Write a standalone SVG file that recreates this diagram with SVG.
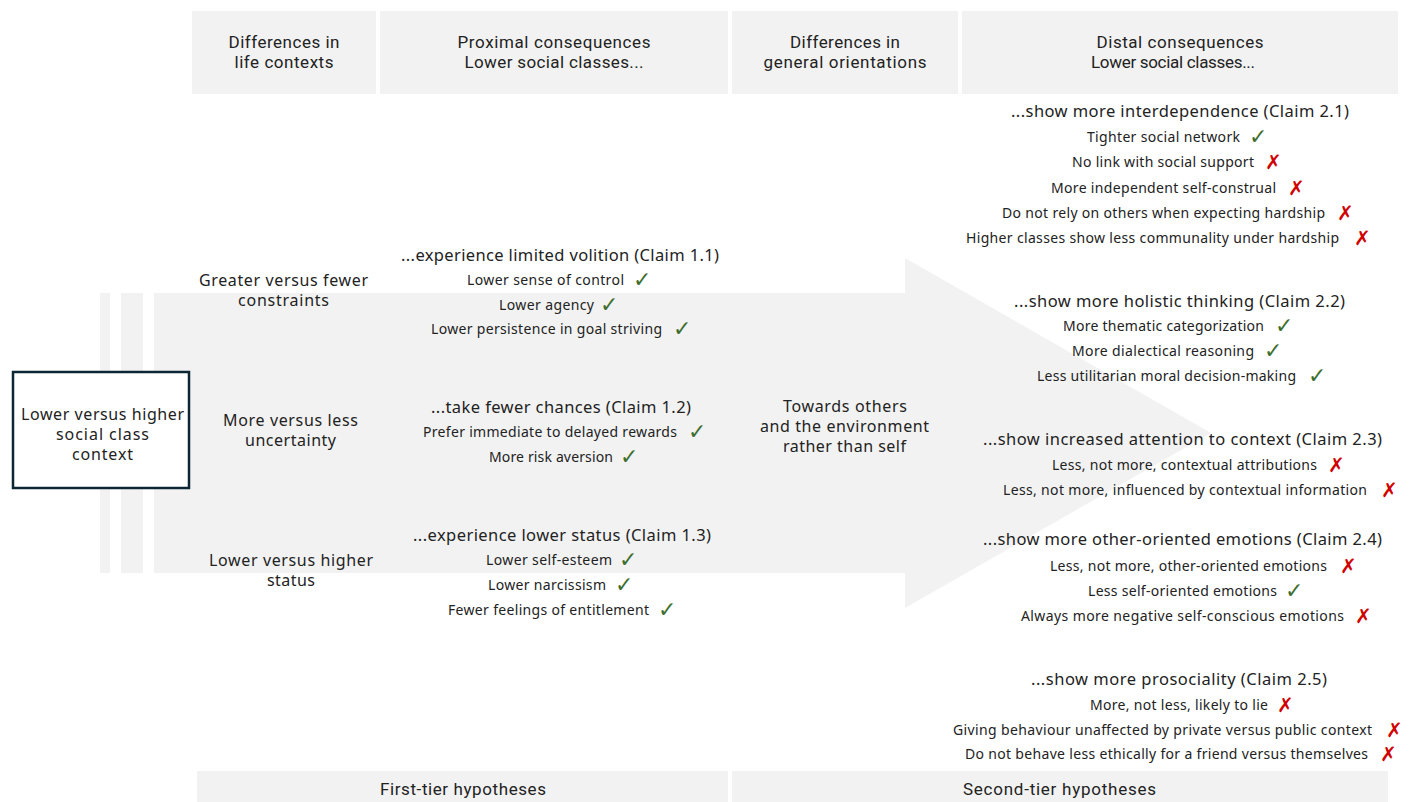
<svg xmlns="http://www.w3.org/2000/svg" width="1416" height="802" viewBox="0 0 1416 802">
<style>
.bg{fill:#f2f2f2}
.h{font-family:Roboto,"Liberation Sans",sans-serif;font-size:17px;fill:#222;text-anchor:middle}
.t{font-family:"Noto Sans","Liberation Sans",sans-serif;font-size:16.5px;fill:#222}
.l{font-family:"Noto Sans","Liberation Sans",sans-serif;font-size:16px;fill:#222;text-anchor:middle}
.i{font-family:"Noto Sans","Liberation Sans",sans-serif;font-size:14px;fill:#222}
.ok{font-family:"DejaVu Sans",sans-serif;font-size:22px;font-weight:bold;fill:#3d6e2e}
.no{font-family:"DejaVu Sans",sans-serif;font-size:20px;fill:#d00000}
</style>
<rect width="1416" height="802" fill="#fff"/>
<g id="headers">
<rect class="bg" x="192" y="11" width="184" height="83"/>
<rect class="bg" x="380" y="11" width="348" height="83"/>
<rect class="bg" x="732" y="11" width="226" height="83"/>
<rect class="bg" x="962" y="11" width="436" height="83"/>
<text class="h" x="284" y="48" textLength="111">Differences in</text>
<text class="h" x="284" y="68" textLength="99">life contexts</text>
<text class="h" x="554" y="48" textLength="193">Proximal consequences</text>
<text class="h" x="554" y="68" textLength="179">Lower social classes...</text>
<text class="h" x="845" y="48" textLength="110">Differences in</text>
<text class="h" x="845" y="68" textLength="163">general orientations</text>
<text class="h" x="1180" y="48" textLength="167">Distal consequences</text>
<text class="h" x="1173" y="68" textLength="164">Lower social classes...</text>
</g>
<g id="arrow">
<rect class="bg" x="100" y="293" width="10" height="280"/>
<rect class="bg" x="121" y="293" width="22" height="280"/>
<path class="bg" d="M154,293 H905 V258 L1211,433 L905,608 V573 H154 Z"/>
</g>
<g id="connectors"></g>
<g id="context">
<rect x="13" y="372" width="176" height="116" fill="#fff" stroke="#0d2633" stroke-width="2.5"/>
<text class="l" x="102.5" y="420" textLength="163">Lower versus higher</text>
<text class="l" x="102.5" y="440" textLength="93">social class</text>
<text class="l" x="102.5" y="460" textLength="61">context</text>
</g>
<g id="life-contexts">
<text class="l" x="283.5" y="286" textLength="169">Greater versus fewer</text>
<text class="l" x="283.5" y="306" textLength="91">constraints</text>
<text class="l" x="290.5" y="426" textLength="135">More versus less</text>
<text class="l" x="290.5" y="446" textLength="91">uncertainty</text>
<text class="l" x="291" y="566" textLength="164">Lower versus higher</text>
<text class="l" x="291" y="586" textLength="48">status</text>
</g>
<g id="orientation">
<text class="l" x="845" y="412" textLength="124">Towards others</text>
<text class="l" x="844.5" y="432" textLength="169">and the environment</text>
<text class="l" x="844.5" y="452" textLength="123">rather than self</text>
</g>
<g id="claim-1-1">
<text class="t" x="401" y="261" textLength="318">...experience limited volition (Claim 1.1)</text>
<text class="i" x="467" y="285" textLength="157">Lower sense of control</text><text class="ok" x="633" y="287">✓</text>
<text class="i" x="499" y="310" textLength="95">Lower agency</text><text class="ok" x="600" y="312">✓</text>
<text class="i" x="431" y="334" textLength="231">Lower persistence in goal striving</text><text class="ok" x="673" y="336">✓</text>
</g>
<g id="claim-1-2">
<text class="t" x="431" y="413" textLength="260">...take fewer chances (Claim 1.2)</text>
<text class="i" x="423" y="437" textLength="254">Prefer immediate to delayed rewards</text><text class="ok" x="688" y="439">✓</text>
<text class="i" x="489" y="462" textLength="124">More risk aversion</text><text class="ok" x="620" y="464">✓</text>
</g>
<g id="claim-1-3">
<text class="t" x="413" y="541" textLength="298">...experience lower status (Claim 1.3)</text>
<text class="i" x="486" y="565" textLength="126">Lower self-esteem</text><text class="ok" x="619" y="567">✓</text>
<text class="i" x="488" y="590" textLength="118">Lower narcissism</text><text class="ok" x="615" y="592">✓</text>
<text class="i" x="448" y="615" textLength="201">Fewer feelings of entitlement</text><text class="ok" x="658" y="617">✓</text>
</g>
<g id="claim-2-1">
<text class="t" x="1011" y="117" textLength="338">...show more interdependence (Claim 2.1)</text>
<text class="i" x="1087" y="142" textLength="153">Tighter social network</text><text class="ok" x="1249" y="144">✓</text>
<text class="i" x="1072" y="167" textLength="182">No link with social support</text><text class="no" x="1265" y="169">✗</text>
<text class="i" x="1051" y="193" textLength="225">More independent self-construal</text><text class="no" x="1288" y="195">✗</text>
<text class="i" x="1002" y="218" textLength="323">Do not rely on others when expecting hardship</text><text class="no" x="1337" y="220">✗</text>
<text class="i" x="966" y="243" textLength="373">Higher classes show less communality under hardship</text><text class="no" x="1354" y="245">✗</text>
</g>
<g id="claim-2-2">
<text class="t" x="1014" y="307" textLength="331">...show more holistic thinking (Claim 2.2)</text>
<text class="i" x="1063" y="331" textLength="201">More thematic categorization</text><text class="ok" x="1275" y="333">✓</text>
<text class="i" x="1072" y="356" textLength="182">More dialectical reasoning</text><text class="ok" x="1264" y="358">✓</text>
<text class="i" x="1037" y="381" textLength="259">Less utilitarian moral decision-making</text><text class="ok" x="1308" y="383">✓</text>
</g>
<g id="claim-2-3">
<text class="t" x="983" y="445" textLength="399">...show increased attention to context (Claim 2.3)</text>
<text class="i" x="1052" y="470" textLength="265">Less, not more, contextual attributions</text><text class="no" x="1328" y="472">✗</text>
<text class="i" x="1003" y="495" textLength="364">Less, not more, influenced by contextual information</text><text class="no" x="1381" y="497">✗</text>
</g>
<g id="claim-2-4">
<text class="t" x="983" y="545" textLength="399">...show more other-oriented emotions (Claim 2.4)</text>
<text class="i" x="1050" y="571" textLength="277">Less, not more, other-oriented emotions</text><text class="no" x="1340" y="573">✗</text>
<text class="i" x="1088" y="596" textLength="189">Less self-oriented emotions</text><text class="ok" x="1285" y="598">✓</text>
<text class="i" x="1021" y="621" textLength="323">Always more negative self-conscious emotions</text><text class="no" x="1355" y="623">✗</text>
</g>
<g id="claim-2-5">
<text class="t" x="1031" y="685" textLength="296">...show more prosociality (Claim 2.5)</text>
<text class="i" x="1090" y="710" textLength="178">More, not less, likely to lie</text><text class="no" x="1277" y="712">✗</text>
<text class="i" x="953" y="735" textLength="419">Giving behaviour unaffected by private versus public context</text><text class="no" x="1386" y="737">✗</text>
<text class="i" x="965" y="759" textLength="403">Do not behave less ethically for a friend versus themselves</text><text class="no" x="1380" y="761">✗</text>
</g>
<g id="tiers">
<rect class="bg" x="197" y="771" width="531" height="31"/>
<rect class="bg" x="732" y="771" width="656" height="31"/>
<text class="h" x="463" y="795" textLength="166">First-tier hypotheses</text>
<text class="h" x="1059.5" y="795" textLength="193">Second-tier hypotheses</text>
</g>
</svg>
